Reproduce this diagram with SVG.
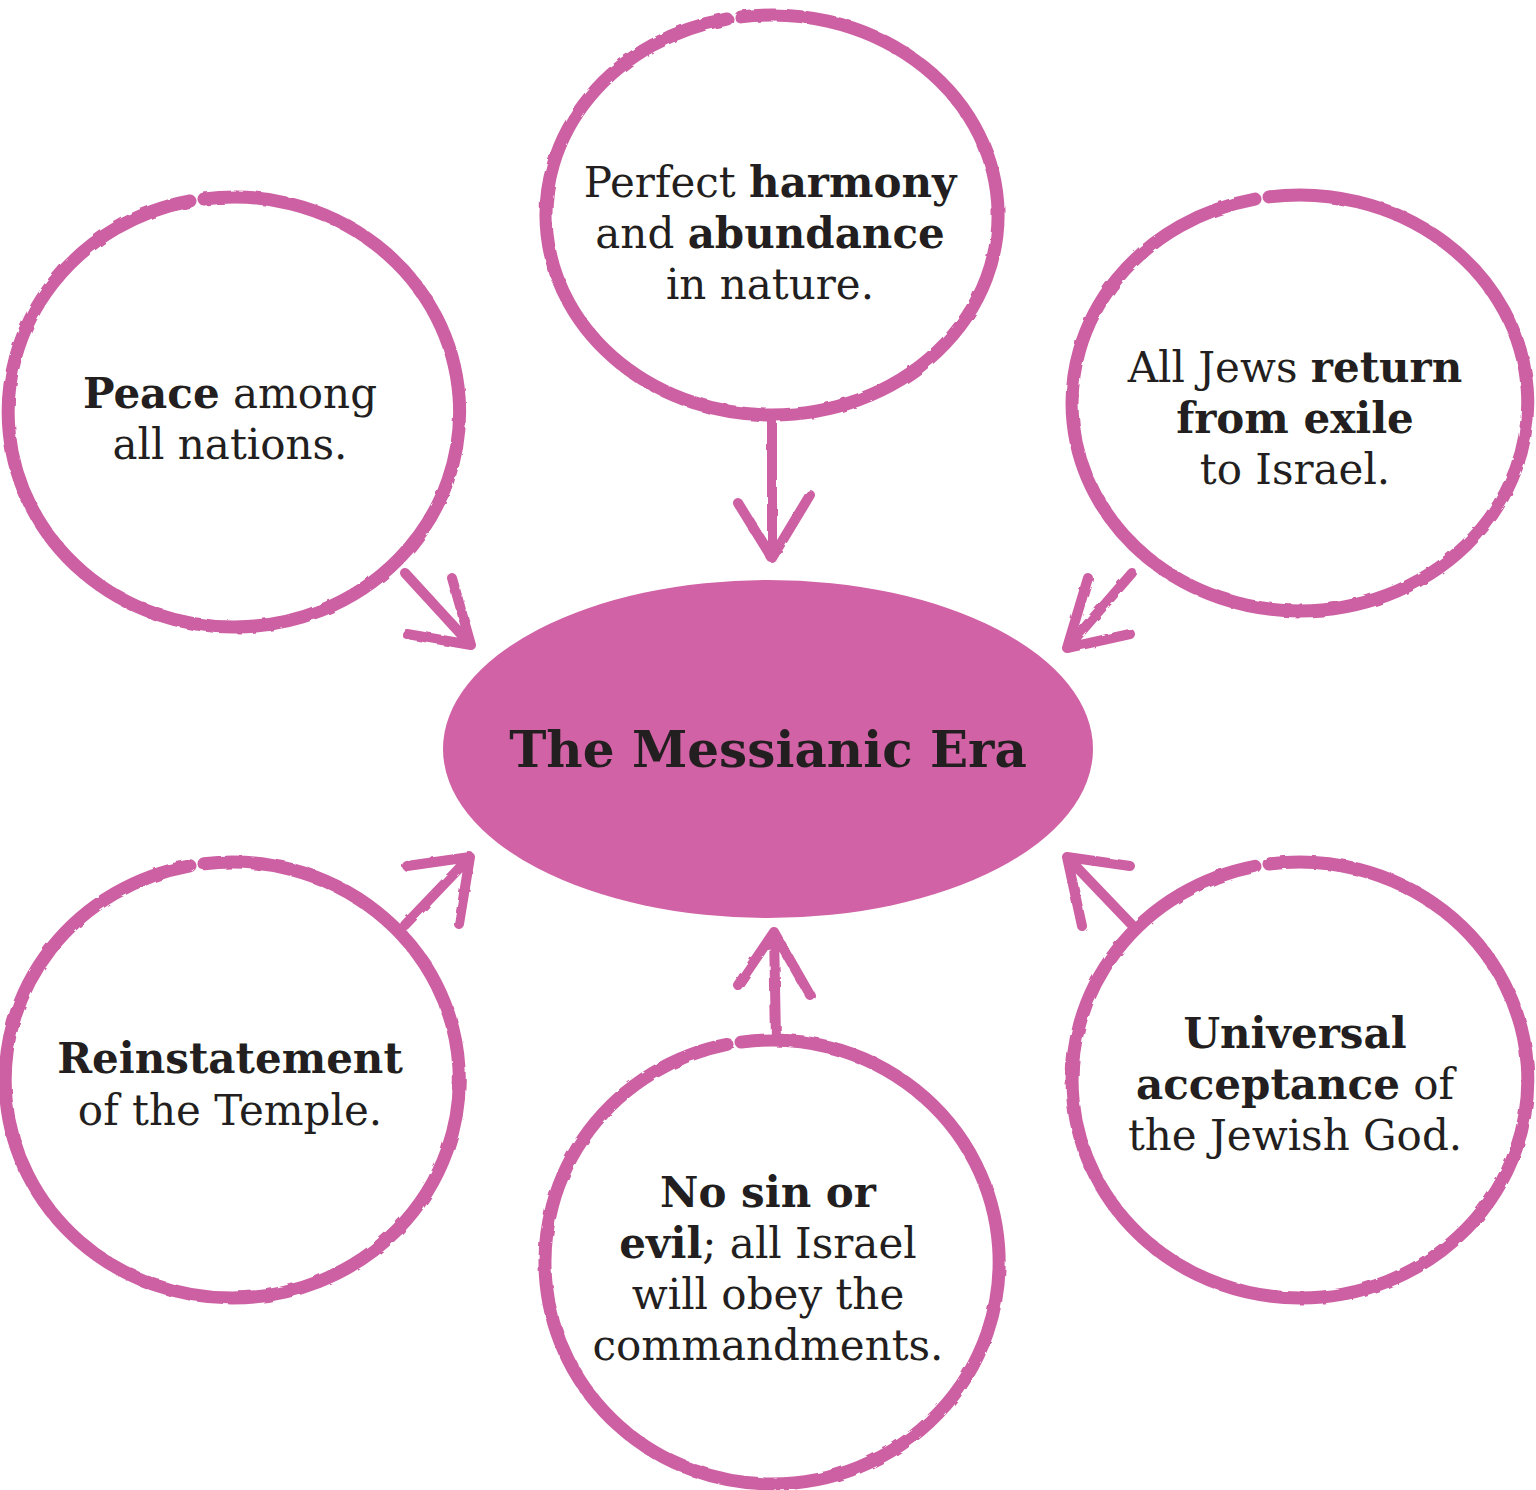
<svg xmlns="http://www.w3.org/2000/svg" width="1536" height="1490" viewBox="0 0 1536 1490">
<defs>
<filter id="rough" x="-5%" y="-5%" width="110%" height="110%">
<feTurbulence type="fractalNoise" baseFrequency="0.08" numOctaves="2" seed="3" result="n"/>
<feDisplacementMap in="SourceGraphic" in2="n" scale="3"/>
</filter>
</defs>
<style>
.ring{fill:none;stroke:#CD5FA3;stroke-width:13;stroke-linecap:round;stroke-linejoin:round}
.arr{fill:none;stroke:#CD5FA3;stroke-width:10;stroke-linecap:round;stroke-linejoin:round}
text{font-family:"DejaVu Serif","Liberation Serif",serif;font-size:42px;fill:#231F20;text-anchor:middle}
.b{font-weight:bold}
.title{font-size:50px;font-weight:bold}
</style>
<rect width="1536" height="1490" fill="#ffffff"/>

<g id="center">
<ellipse cx="768" cy="749" rx="325" ry="169" fill="#D062A5"/>
<text class="title" x="768" y="767">The Messianic Era</text>
</g>

<g id="harmony">
<path class="ring" filter="url(#rough)" d="M 741 16.9 A 226 200 0 1 1 772 415 A 226 200 0 0 1 727 19"/>
<text x="770" y="197">Perfect <tspan class="b">harmony</tspan></text>
<text x="770" y="248">and <tspan class="b">abundance</tspan></text>
<text x="770" y="299">in nature.</text>
</g>

<g id="peace">
<path class="ring" filter="url(#rough)" d="M 204 199 A 225 215 0 1 1 235 627 A 225 215 0 0 1 190 201"/>
<text x="230" y="408"><tspan class="b">Peace</tspan> among</text>
<text x="230" y="459">all nations.</text>
</g>

<g id="exile">
<path class="ring" filter="url(#rough)" d="M 1269 196.9 A 228 208 0 1 1 1300 611 A 228 208 0 0 1 1255 199.1"/>
<text x="1295" y="382">All Jews <tspan class="b">return</tspan></text>
<text x="1295" y="433" class="b">from exile</text>
<text x="1295" y="484">to Israel.</text>
</g>

<g id="temple">
<path class="ring" filter="url(#rough)" d="M 204 863.7 A 227 218 0 1 1 232 1298 A 227 218 0 0 1 190 865.8"/>
<text x="230" y="1073" class="b">Reinstatement</text>
<text x="230" y="1125">of the Temple.</text>
</g>

<g id="nosin">
<path class="ring" filter="url(#rough)" d="M 741 1042.1 A 227 222 0 1 1 772 1484 A 227 222 0 0 1 727 1044.4"/>
<text x="768" y="1207" class="b">No sin or</text>
<text x="768" y="1258"><tspan class="b">evil</tspan>; all Israel</text>
<text x="768" y="1309">will obey the</text>
<text x="768" y="1360">commandments.</text>
</g>

<g id="universal">
<path class="ring" filter="url(#rough)" d="M 1269 864 A 228 218 0 1 1 1300 1298 A 228 218 0 0 1 1255 866.3"/>
<text x="1295" y="1048" class="b">Universal</text>
<text x="1295" y="1099"><tspan class="b">acceptance</tspan> of</text>
<text x="1295" y="1150">the Jewish God.</text>
</g>

<g id="connectors" filter="url(#rough)">
<path class="arr" d="M 772 418 L 772 558 M 738 503 L 772 558 L 810 495"/>
<path class="arr" d="M 405 573 L 471 645 M 452 578 L 471 645 L 407 634"/>
<path class="arr" d="M 1132 573 L 1067 648 M 1088 578 L 1067 648 L 1130 634"/>
<path class="arr" d="M 405 925 L 470 857 M 407 866 L 470 857 L 459 924"/>
<path class="arr" d="M 776 1040 L 774 932 M 738 985 L 774 932 L 810 995"/>
<path class="arr" d="M 1132 925 L 1067 857 M 1130 866 L 1067 857 L 1082 926"/>
</g>
</svg>
